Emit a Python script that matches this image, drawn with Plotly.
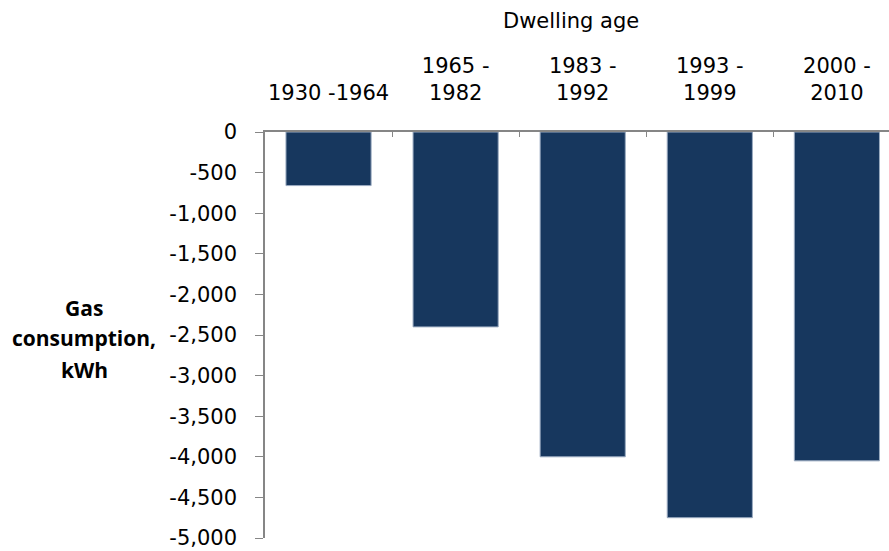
import plotly.graph_objects as go

categories = ["1930 -1964", "1965 -<br>1982", "1983 -<br>1992", "1993 -<br>1999", "2000 -<br>2010"]
gas_kwh = [-660, -2400, -4000, -4750, -4050]
y_tickvals = [0, -500, -1000, -1500, -2000, -2500, -3000, -3500, -4000, -4500, -5000]
y_ticktext = ["0", "-500", "-1,000", "-1,500", "-2,000", "-2,500", "-3,000", "-3,500", "-4,000", "-4,500", "-5,000"]
y_title_lines = ["Gas", "consumption,", "kWh"]

FONT = "DejaVu Sans"
TFONT = "Open Sans"
FS = 21
fig = go.Figure()
fig.add_trace(go.Bar(
    x=categories, y=gas_kwh,
    marker=dict(color="#17375E", line=dict(color="#9aaac0", width=1)),
    width=0.67,
))

annotations = [
    dict(text="Dwelling age", xref="paper", yref="paper", x=0.49, y=1.0, yshift=111,
         showarrow=False, font=dict(family=FONT, size=FS), xanchor="center", yanchor="middle"),
]
for line, ypos in zip(y_title_lines, [0.566, 0.493, 0.414]):
    annotations.append(dict(text="<b>" + line + "</b>", xref="paper", yref="paper",
                            x=0, xshift=-181, y=ypos, showarrow=False,
                            font=dict(family=TFONT, size=FS), xanchor="center", yanchor="middle"))

fig.update_layout(
    width=889, height=551,
    margin=dict(l=265, r=0, t=132, b=13),
    plot_bgcolor="white", paper_bgcolor="white",
    showlegend=False,
    font=dict(family=FONT, size=FS, color="#000000"),
    xaxis=dict(
        side="top", range=[-0.5, 4.41], automargin=False, tickangle=0,
        showline=True, linecolor="#868686", linewidth=1.5,
        ticks="inside", tickson="boundaries", ticklen=5, tickcolor="#868686",
        showgrid=False, zeroline=False,
        tickfont=dict(family=FONT, size=FS),
        ticklabelstandoff=22, ticklabeloverflow="allow",
    ),
    yaxis=dict(
        range=[-5000, 0], automargin=False,
        tickvals=y_tickvals, ticktext=y_ticktext,
        showline=True, linecolor="#868686", linewidth=1.5,
        ticks="outside", ticklen=8, tickcolor="#868686",
        showgrid=False, zeroline=False,
        tickfont=dict(family=FONT, size=FS),
        ticklabelstandoff=14, ticklabeloverflow="allow",
    ),
    annotations=annotations,
)

fig.write_html("out.html", config={"displayModeBar": False},
               post_script="document.body.style.margin='0';document.body.style.overflow='hidden';")
